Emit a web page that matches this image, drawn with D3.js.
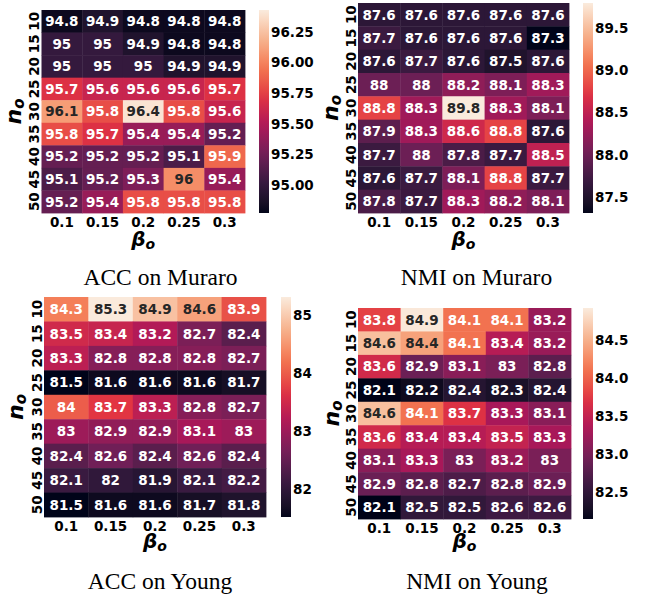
<!DOCTYPE html>
<html>
<head>
<meta charset="utf-8">
<script src="https://cdn.jsdelivr.net/npm/d3@7"></script>
<style>
  body { margin: 0; background: #fff; }
  svg text { font-family: "DejaVu Sans", sans-serif; font-weight: bold; }
  svg text.title { font-family: "Liberation Serif", "Times New Roman", serif; font-weight: normal; }
</style>
</head>
<body>
<svg id="chart" width="645" height="598"></svg>
<script>
// rows (n_o) and columns (beta_o)
var nValues = ["10", "15", "20", "25", "30", "35", "40", "45", "50"];
var betaValues = ["0.1", "0.15", "0.2", "0.25", "0.3"];

var accMuraro = [
  [94.8, 94.9, 94.8, 94.8, 94.8],
  [95, 95, 94.9, 94.8, 94.8],
  [95, 95, 95, 94.9, 94.9],
  [95.7, 95.6, 95.6, 95.6, 95.7],
  [96.1, 95.8, 96.4, 95.8, 95.6],
  [95.8, 95.7, 95.4, 95.4, 95.2],
  [95.2, 95.2, 95.2, 95.1, 95.9],
  [95.1, 95.2, 95.3, 96.04, 95.4],
  [95.2, 95.4, 95.8, 95.8, 95.8]
];
var nmiMuraro = [
  [87.6, 87.6, 87.6, 87.6, 87.6],
  [87.7, 87.6, 87.6, 87.6, 87.3],
  [87.6, 87.7, 87.6, 87.5, 87.6],
  [88, 88, 88.2, 88.1, 88.3],
  [88.8, 88.3, 89.8, 88.3, 88.1],
  [87.9, 88.3, 88.6, 88.8, 87.6],
  [87.7, 88, 87.8, 87.7, 88.5],
  [87.6, 87.7, 88.1, 88.8, 87.7],
  [87.8, 87.7, 88.3, 88.2, 88.1]
];
var accYoung = [
  [84.3, 85.3, 84.9, 84.6, 83.9],
  [83.5, 83.4, 83.2, 82.7, 82.4],
  [83.3, 82.8, 82.8, 82.8, 82.7],
  [81.5, 81.6, 81.6, 81.6, 81.7],
  [84, 83.7, 83.3, 82.8, 82.7],
  [83, 82.9, 82.9, 83.1, 83],
  [82.4, 82.6, 82.4, 82.6, 82.4],
  [82.1, 82, 81.9, 82.1, 82.2],
  [81.5, 81.6, 81.6, 81.7, 81.8]
];
var nmiYoung = [
  [83.8, 84.9, 84.1, 84.1, 83.2],
  [84.6, 84.4, 84.1, 83.4, 83.2],
  [83.6, 82.9, 83.1, 83, 82.8],
  [82.1, 82.2, 82.4, 82.3, 82.4],
  [84.6, 84.1, 83.7, 83.3, 83.1],
  [83.6, 83.4, 83.4, 83.5, 83.3],
  [83.1, 83.3, 83, 83.2, 83],
  [82.9, 82.8, 82.7, 82.8, 82.9],
  [82.1, 82.5, 82.5, 82.6, 82.6]
];

// colorbar ranges and tick labels
var colorRanges = [[94.77, 96.43], [87.31, 89.8], [81.52, 85.31], [82.14, 84.92]];
var cbTicks = [
  [95, 95.25, 95.5, 95.75, 96, 96.25],
  [87.5, 88, 88.5, 89, 89.5],
  [82, 83, 84, 85],
  [82.5, 83, 83.5, 84, 84.5]
];
var cbFormats = [".2f", ".1f", ".0f", ".1f"];
var titles = ["ACC on Muraro", "NMI on Muraro", "ACC on Young", "NMI on Young"];
var panelValues = [accMuraro, nmiMuraro, accYoung, nmiYoung];

// seaborn "rocket", approximated by a few stops
var rocketColors = ["#03051a", "#35193e", "#701f57", "#ad1759", "#e13342", "#f37651", "#f6b48f", "#faebdd"];
var rocket = d3.piecewise(d3.interpolateLab, rocketColors);

var layout = [
  { x0: 41.5, y0: 10, x1: 245, y1: 213, cbX: 259, tx: 160.5, ty: 285, xlabY: 245.5, ylabX: 20.5 },
  { x0: 358, y0: 3, x1: 569, y1: 213, cbX: 583, tx: 476.5, ty: 285, xlabY: 245.5, ylabX: 338 },
  { x0: 44, y0: 297, x1: 266, y1: 517, cbX: 281, tx: 160, ty: 589, xlabY: 548, ylabX: 22.5 },
  { x0: 358, y0: 308, x1: 571, y1: 519, cbX: 583, tx: 477, ty: 589, xlabY: 547.5, ylabX: 339 }
];
var cbW = 10;
var fontPx = "13.5px";

var svg = d3.select("#chart");
var fmt = d3.format(".3~g");

// seaborn picks dark text on light cells (threshold tuned for the approximated map)
function luminance(c) {
  var rgb = d3.rgb(c);
  var lin = function (v) {
    v /= 255;
    return v <= 0.03928 ? v / 12.92 : Math.pow((v + 0.055) / 1.055, 2.4);
  };
  return 0.2126 * lin(rgb.r) + 0.7152 * lin(rgb.g) + 0.0722 * lin(rgb.b);
}

function drawPanel(i) {
  var L = layout[i];
  var values = panelValues[i];
  var g = svg.append("g");

  var x = d3.scaleBand().domain(betaValues).range([L.x0, L.x1]);
  var y = d3.scaleBand().domain(nValues).range([L.y0, L.y1]);
  var color = d3.scaleSequential(rocket).domain(colorRanges[i]);

  var cells = [];
  values.forEach(function (row, r) {
    row.forEach(function (v, c) {
      cells.push({ n: nValues[r], b: betaValues[c], v: v });
    });
  });

  g.selectAll("rect.cell")
    .data(cells)
    .enter().append("rect")
    .attr("class", "cell")
    .attr("x", function (d) { return x(d.b); })
    .attr("y", function (d) { return y(d.n); })
    .attr("width", x.bandwidth() + 0.4)
    .attr("height", y.bandwidth() + 0.4)
    .attr("fill", function (d) { return color(d.v); });

  g.selectAll("text.annot")
    .data(cells)
    .enter().append("text")
    .attr("class", "annot")
    .attr("x", function (d) { return x(d.b) + x.bandwidth() / 2; })
    .attr("y", function (d) { return y(d.n) + y.bandwidth() / 2; })
    .attr("dy", "0.36em")
    .attr("text-anchor", "middle")
    .style("font-size", fontPx)
    .attr("fill", function (d) { return luminance(color(d.v)) > 0.38 ? "#262626" : "#ffffff"; })
    .text(function (d) { return fmt(d.v); });

  // x axis
  var xAxis = g.append("g")
    .attr("transform", "translate(0," + L.y1 + ")")
    .call(d3.axisBottom(x).tickSize(0).tickPadding(4));
  xAxis.select(".domain").remove();
  xAxis.selectAll("text").style("font-size", fontPx).attr("fill", "#000");

  // y axis, labels turned vertical
  var yAxis = g.append("g")
    .attr("transform", "translate(" + L.x0 + ",0)")
    .call(d3.axisLeft(y).tickSize(0).tickPadding(0));
  yAxis.select(".domain").remove();
  yAxis.selectAll("text")
    .attr("transform", "rotate(-90)")
    .attr("x", 0)
    .attr("y", -2.5)
    .attr("dy", null)
    .attr("text-anchor", "middle")
    .style("font-size", fontPx)
    .attr("fill", "#000");

  // colorbar
  var cb = d3.scaleLinear().domain(colorRanges[i]).range([L.y1, L.y0]);
  var grad = svg.append("defs").append("linearGradient")
    .attr("id", "cb" + i)
    .attr("x1", 0).attr("y1", 1).attr("x2", 0).attr("y2", 0);
  grad.selectAll("stop")
    .data(d3.range(0, 1.0001, 0.05))
    .enter().append("stop")
    .attr("offset", function (t) { return t; })
    .attr("stop-color", function (t) { return rocket(t); });
  g.append("rect")
    .attr("x", L.cbX)
    .attr("y", L.y0)
    .attr("width", cbW)
    .attr("height", L.y1 - L.y0)
    .attr("fill", "url(#cb" + i + ")");
  var cbAxis = g.append("g")
    .attr("transform", "translate(" + (L.cbX + cbW) + ",0)")
    .call(d3.axisRight(cb).tickValues(cbTicks[i]).tickFormat(d3.format(cbFormats[i])).tickSize(0).tickPadding(2));
  cbAxis.select(".domain").remove();
  cbAxis.selectAll("text").style("font-size", fontPx).attr("fill", "#000");

  // axis labels
  var yl = g.append("text")
    .attr("transform", "translate(" + L.ylabX + "," + (L.y0 + L.y1) / 2 + ") rotate(-90)")
    .attr("text-anchor", "middle")
    .style("font-style", "italic")
    .style("font-size", "22px");
  yl.append("tspan").text("n");
  yl.append("tspan").attr("dy", 3).style("font-size", "15px").text("o");

  var xl = g.append("text")
    .attr("transform", "translate(" + (L.x0 + L.x1) / 2 + "," + L.xlabY + ")")
    .attr("text-anchor", "middle")
    .style("font-style", "italic")
    .style("font-size", "20px");
  xl.append("tspan").text("β");
  xl.append("tspan").attr("dy", 3).style("font-size", "14px").text("o");

  g.append("text")
    .attr("class", "title")
    .attr("x", L.tx)
    .attr("y", L.ty)
    .attr("text-anchor", "middle")
    .style("font-size", "23.5px")
    .text(titles[i]);
}

for (var i = 0; i < 4; i++) drawPanel(i);
</script>
</body>
</html>
